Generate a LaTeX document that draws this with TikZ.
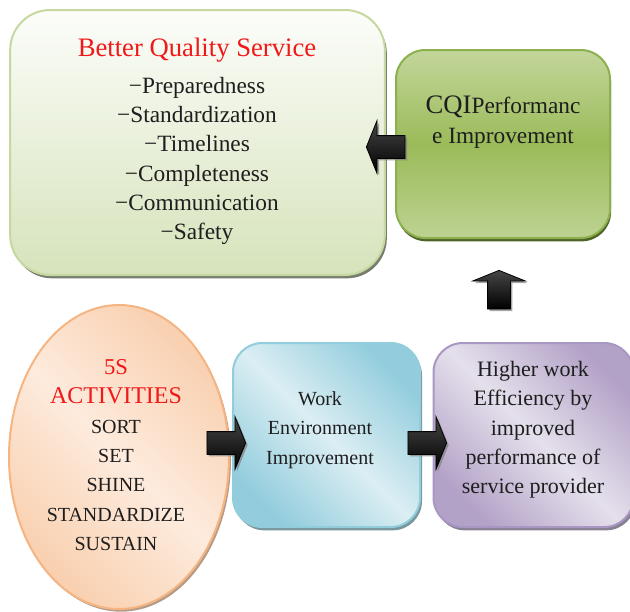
\documentclass[tikz,border=0pt]{standalone}
\usepackage{fontspec}
\setmainfont{Liberation Serif}
\usetikzlibrary{shapes.geometric,shapes.arrows,shadows}
\definecolor{txt}{HTML}{1E1E1E}
\definecolor{redt}{HTML}{F01818}
\definecolor{gA}{HTML}{FCFDFA}
\definecolor{gB}{HTML}{D6E3BB}
\definecolor{gBorder}{HTML}{C4D8A0}
\definecolor{cA}{HTML}{C3D69B}
\definecolor{cB}{HTML}{9BBB59}
\definecolor{cBorder}{HTML}{8DB04E}
\definecolor{cShadow}{HTML}{4F6228}
\definecolor{oA}{HTML}{FDEBDD}
\definecolor{oB}{HTML}{F8C9A4}
\definecolor{oBorder}{HTML}{F5B583}
\definecolor{bA}{HTML}{DBEEF3}
\definecolor{bB}{HTML}{93CDDD}
\definecolor{bBorder}{HTML}{92CDDC}
\definecolor{pA}{HTML}{E5E0EC}
\definecolor{pB}{HTML}{B3A2C7}
\definecolor{pBorder}{HTML}{A897C2}
\tikzset{
  box/.style={rounded corners=22pt, line width=1.5pt, inner sep=0pt},
  txtnode/.style={align=center, text=txt, inner sep=0pt, font=\fontsize{15}{22}\selectfont},
  blockarrow/.style={single arrow, minimum height=29pt, minimum width=39pt,
    inner xsep=0pt, inner ysep=8.25pt,
    single arrow head extend=11.25pt, single arrow tip angle=136,
    top color=gray!55!black, bottom color=black, draw=black, line width=0.6pt,
    drop shadow={fill=gray, opacity=0.7, shadow xshift=1.5pt, shadow yshift=-1.5pt}},
}
\begin{document}
\begin{tikzpicture}[x=0.75pt,y=-0.75pt]
\useasboundingbox (0,0) rectangle (630,611);
% Better Quality Service box
\node[box, rounded corners=30pt, draw=gBorder, top color=gA, bottom color=gB,
  minimum width=281pt, minimum height=198.75pt,
  drop shadow={fill=black!60!gB, opacity=0.8, shadow xshift=1.5pt, shadow yshift=-2.5pt}]
  (bqs) at (197.5,142.5) {};
\node[txtnode, font=\fontsize{20}{22}\selectfont, text=redt] (bqst) at (197,50) {Better Quality Service};
\node[txtnode, font=\fontsize{17.5}{22}\selectfont] (bqsl) at (197,161) {−Preparedness\\−Standardization\\−Timelines\\−Completeness\\−Communication\\−Safety};
% CQI box
\node[box, draw=cBorder, top color=cA, bottom color=cA!85!cB, middle color=cB,
  minimum width=160.5pt, minimum height=141pt,
  drop shadow={fill=cShadow, opacity=1, shadow xshift=0.8pt, shadow yshift=-2.5pt}]
  (cqi) at (503,144) {};
\node[txtnode, font=\fontsize{17.5}{23}\selectfont] (cqit) at (503,122) {{\fontsize{20}{23}\selectfont CQI}Performanc\\e Improvement};
% 5S ellipse
\node[ellipse, draw=oBorder, line width=1.5pt, left color=oB!80!oA, right color=oB!80!oA, middle color=oA, shading angle=-45,
  minimum width=165pt, minimum height=228pt, inner sep=0pt,
  drop shadow={fill=black!35!oB, opacity=0.8, shadow xshift=1.5pt, shadow yshift=-2pt}]
  (fives) at (119,457) {};
\node[txtnode] (fivest) at (116,455) {\textcolor{redt}{\fontsize{17}{22}\selectfont 5S}\\\textcolor{redt}{\fontsize{18}{22}\selectfont ACTIVITIES}\\SORT\\SET\\SHINE\\STANDARDIZE\\SUSTAIN};
% Work environment box
\node[box, draw=bBorder, left color=bB, right color=bB, middle color=bA, shading angle=-45,
  minimum width=140.25pt, minimum height=138pt,
  drop shadow={fill=black!40!bB, opacity=0.8, shadow xshift=1.5pt, shadow yshift=-2.5pt}]
  (work) at (326.5,435) {};
\node[txtnode] (workt) at (320,430) {Work\\Environment\\Improvement};
% Higher work efficiency box
\node[box, draw=pBorder, left color=pB, right color=pB, middle color=pA, shading angle=-45,
  minimum width=150pt, minimum height=138pt,
  drop shadow={fill=black!40!pB, opacity=0.8, shadow xshift=1.5pt, shadow yshift=-2.5pt}]
  (eff) at (533.5,435) {};
\node[txtnode, font=\fontsize{16.5}{22}\selectfont] (efft) at (533,430) {Higher work\\Efficiency by\\improved\\performance of\\service provider};
% block arrows
\node[blockarrow] (a1) at (224,443) {};
\node[blockarrow] (a2) at (425,443) {};
\node[blockarrow, rotate=180] (a3) at (388,147) {};
\node[blockarrow, rotate=90] (a4) at (499,292) {};
\end{tikzpicture}
\end{document}
